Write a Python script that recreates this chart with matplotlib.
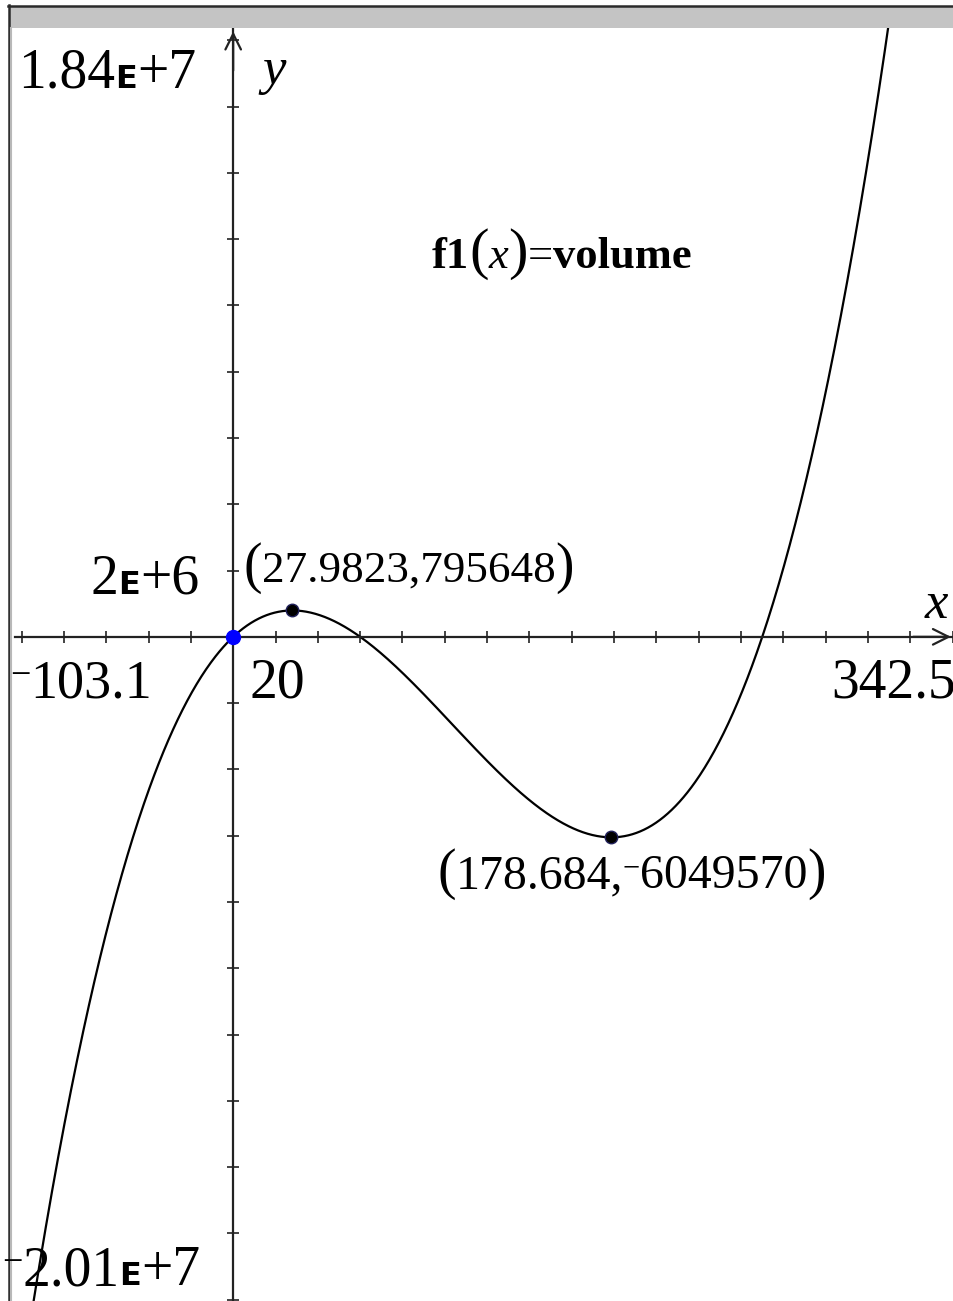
import numpy as np
import matplotlib.pyplot as plt
from matplotlib.transforms import IdentityTransform
from matplotlib.patches import Rectangle
from matplotlib.lines import Line2D

W, H = 954, 1301

# graph window
x_min, x_max = -103.1, 342.5
y_min, y_max = -2.01e7, 1.84e7
x_step, y_step = 20, 2e6

# f1(x) = volume, a cubic given by its zeros and leading coefficient
roots = [0, 60, 250]
lead = 4

# labelled points on the curve
crit_x = [27.9823, 178.684]
crit_y = [795648, -6049570]
origin = (0, 0)

fig = plt.figure(figsize=(W / 100, H / 100), dpi=100)
fig.patch.set_facecolor('white')

# window frame + grey title strip
fig.add_artist(Rectangle((10 / W, 1 - 28 / H), (W - 10) / W, 21 / H,
                         transform=fig.transFigure, color='#c4c4c4', lw=0))
fig.add_artist(Line2D([8 / W, 1], [1 - 5.5 / H] * 2, transform=fig.transFigure,
                      color='#2a2a2a', lw=1.8))
fig.add_artist(Line2D([9 / W] * 2, [0, 1 - 5 / H], transform=fig.transFigure,
                      color='#2a2a2a', lw=1.8))
fig.add_artist(Line2D([11.5 / W] * 2, [0, 1 - 28 / H], transform=fig.transFigure,
                      color='#b8b8b8', lw=1.5))

ax = fig.add_axes([15 / W, (H - 1303) / H, 943 / W, 1276 / H])
ax.set_xlim(x_min, x_max)
ax.set_ylim(y_min, y_max)
ax.patch.set_visible(False)
for s in ['top', 'right']:
    ax.spines[s].set_visible(False)
for s in ['left', 'bottom']:
    ax.spines[s].set_position(('data', 0))
    ax.spines[s].set_color('#222222')
    ax.spines[s].set_linewidth(1.6)
ax.set_xticks(np.arange(-100, x_max, x_step))
ax.set_yticks(np.arange(-2e7, y_max, y_step))
ax.tick_params(direction='inout', length=8, width=1.2, color='#222222',
               labelbottom=False, labelleft=False)

# axis arrows
ax.annotate('', xy=(0, 1.835e7), xytext=(0, 1.7e7),
            arrowprops=dict(arrowstyle='->', lw=1.6, color='#222222', mutation_scale=28))
ax.annotate('', xy=(340.5, 0), xytext=(320, 0),
            arrowprops=dict(arrowstyle='->', lw=1.6, color='#222222', mutation_scale=28))

xs = np.linspace(x_min, x_max, 1200)
ys = lead * np.polyval(np.poly(roots), xs)
ax.plot(xs, ys, color='black', lw=1.6)

ax.plot(crit_x, crit_y, 'o', color='black', mec='#20205a', ms=9, zorder=5)
ax.plot([origin[0]], [origin[1]], 'o', color='#0000ff', ms=10, zorder=5)

serif = ['Liberation Serif', 'DejaVu Serif']


def chain(x, y, parts, ha='left'):
    """Write text pieces one after another on a common baseline (pixel coords, y from top)."""
    renderer = fig.canvas.get_renderer()
    texts = []
    cx = x
    for s, kw in parts:
        kw = dict(kw)
        dy = kw.pop('dy', 0)
        t = fig.text(cx, H - y + dy, s, transform=IdentityTransform(),
                     va='baseline', ha='left', color='black', **kw)
        cx = t.get_window_extent(renderer).x1
        texts.append(t)
    if ha == 'right':
        for t in texts:
            px, py = t.get_position()
            t.set_position((px - (cx - x), py))
    return texts


big = dict(family=serif, size=40)
esym = dict(family='DejaVu Sans', size=23, weight='bold')
minus = dict(family=serif, size=26, dy=13)

# window bounds and scale labels
chain(18, 88, [('1.84', big), ('E', esym), ('+7', big)])
chain(10, 698, [('\u2212', minus), ('103.1', dict(family=serif, size=39))])
chain(250, 698, [(f'{x_step:g}', big)])
chain(956, 698, [('342.5', big)], ha='right')
chain(199, 594, [('2', big), ('E', esym), ('+6', big)], ha='right')
chain(2, 1285, [('\u2212', minus), ('2.01', big), ('E', esym), ('+7', big)])

# axis names
chain(262, 84, [('y', dict(family=serif, size=38, style='italic'))])
chain(925, 618, [('x', dict(family=serif, size=38, style='italic'))])

# function label
fb = dict(family=serif, size=32, weight='bold')
chain(432, 268, [('f1', fb), ('(', dict(family=serif, size=42)),
                 ('x', dict(family=serif, size=32, style='italic')),
                 (')', dict(family=serif, size=42)), ('=', dict(family=serif, size=32)),
                 ('volume', fb)])

# coordinates of the extrema
par = dict(family=serif, size=40)
chain(243, 582, [('(', par), (f'{crit_x[0]:g},{crit_y[0]:d}', dict(family=serif, size=32.5)),
                 (')', par)])
num = dict(family=serif, size=34.5)
chain(437, 888, [('(', par), (f'{crit_x[1]:g},', num),
                 ('\u2212', dict(family=serif, size=22, dy=12)),
                 (f'{abs(crit_y[1]):d}', num), (')', par)])

fig.savefig('out.png', dpi=100)
